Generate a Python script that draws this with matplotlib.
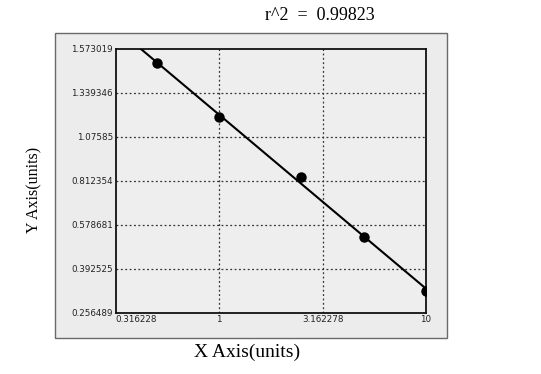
import numpy as np
import matplotlib
matplotlib.use("Agg")
import matplotlib.pyplot as plt
from matplotlib.patches import Rectangle

# standard points
x_conc = [0.5, 1.0, 2.5, 5.0, 10.0]
y_od = [1.4936, 1.1931, 0.8334, 0.5266, 0.3242]

x_ticks = [0.316228, 1, 3.162278, 10]
x_labels = ["0.316228", "1", "3.162278", "10"]
y_ticks = [0.256489, 0.392525, 0.578681, 0.812354, 1.07585, 1.339346, 1.573019]
y_labels = ["0.256489", "0.392525", "0.578681", "0.812354", "1.07585", "1.339346", "1.573019"]
r2_text = "r^2  =  0.99823"

# y axis labels sit at evenly spaced positions -> piecewise scale
_pos = np.arange(len(y_ticks), dtype=float)


def _fwd(v):
    return np.interp(v, y_ticks, _pos, left=-1e-9, right=len(y_ticks))


def _inv(p):
    return np.interp(p, _pos, y_ticks)


fig = plt.figure(figsize=(5.41, 3.74), dpi=100)
fig.patch.set_facecolor("white")

# grey panel behind the plot
fig.patches.append(Rectangle((55 / 541, 1 - 338 / 374), 392 / 541, 305 / 374,
                             transform=fig.transFigure, facecolor="#ececec",
                             edgecolor="#6a6a6a", lw=1.0, zorder=-1))

ax = fig.add_axes([115.7 / 541, 1 - 313 / 374, 310.3 / 541, 264.5 / 374])
ax.set_facecolor("#eeeeee")
ax.set_xscale("log")
ax.set_yscale("function", functions=(_fwd, _inv))
ax.set_xlim(x_ticks[0], x_ticks[-1])
ax.set_ylim(y_ticks[0], y_ticks[-1])

# fit line in (log x, scale position) space
lx = np.log10(x_conc)
py = _fwd(np.array(y_od))
k, b = np.polyfit(lx, py, 1)
x_start = 10 ** ((len(y_ticks) - 1 - b) / k)
xx = np.logspace(np.log10(x_start), np.log10(x_ticks[-1]), 50)
ax.plot(xx, _inv(k * np.log10(xx) + b), color="black", lw=1.5, zorder=3)
ax.plot(x_conc, y_od, "o", color="black", ms=6.5, zorder=4)

for xv in x_ticks[1:-1]:
    ax.axvline(xv, color="#333333", ls=(0, (1.5, 2)), lw=0.9, zorder=1)
for yv in y_ticks[1:-1]:
    ax.axhline(yv, color="#333333", ls=(0, (1.5, 2)), lw=0.9, zorder=1)

ax.set_xticks(x_ticks)
ax.set_xticklabels(x_labels)
ax.set_yticks(y_ticks)
ax.set_yticklabels(y_labels)
ax.xaxis.set_minor_locator(matplotlib.ticker.NullLocator())
ax.tick_params(axis="both", length=0, labelsize=6.3, colors="#222222")
ax.tick_params(axis="x", pad=1.5)
ax.tick_params(axis="y", pad=2)
ax.get_xticklabels()[0].set_horizontalalignment("left")
for s in ax.spines.values():
    s.set_linewidth(1.3)
    s.set_color("#111111")

serif = ["Liberation Serif", "DejaVu Serif"]
fig.text(320 / 541, 1 - 15 / 374, r2_text, ha="center", va="center",
         fontsize=13, family=serif)
fig.text(247.5 / 541, 1 - 352 / 374, "X Axis(units)", ha="center", va="center",
         fontsize=14, family=serif)
fig.text(34 / 541, 1 - 190 / 374, "Y Axis(units)", ha="center", va="center",
         rotation=90, fontsize=11.5, family=serif)

fig.savefig("out.png", dpi=100)
